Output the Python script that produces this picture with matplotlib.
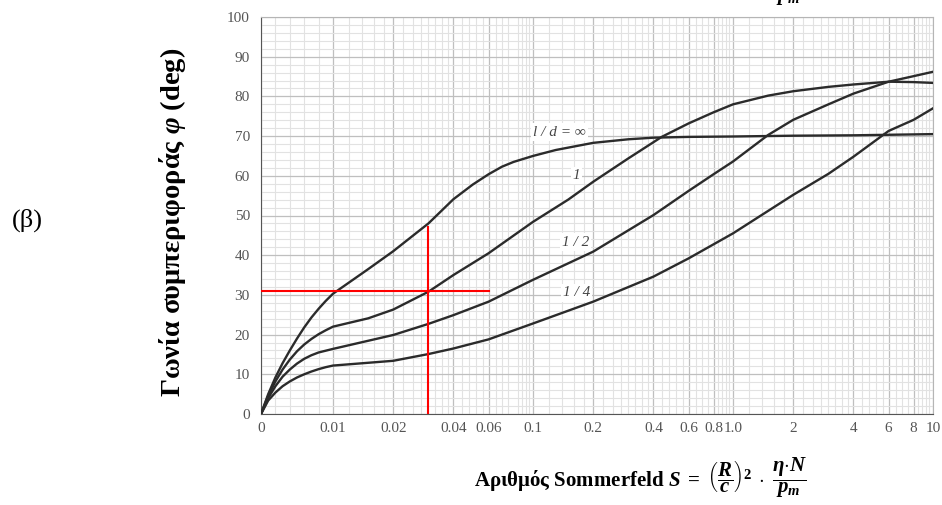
import numpy as np
import matplotlib.pyplot as plt
from matplotlib.ticker import FixedLocator, FixedFormatter, MultipleLocator

plt.rcParams['font.family'] = ['Liberation Serif', 'DejaVu Serif']
plt.rcParams['mathtext.fontset'] = 'custom'
plt.rcParams['mathtext.rm'] = 'Liberation Serif:bold'
plt.rcParams['mathtext.it'] = 'Liberation Serif:italic:bold'
plt.rcParams['mathtext.bf'] = 'Liberation Serif:bold'

S_inf = [0, 0.001, 0.002, 0.003, 0.004, 0.005, 0.006, 0.007, 0.008, 0.009, 0.01,
         0.015, 0.02, 0.03, 0.04, 0.05, 0.06, 0.07, 0.08, 0.1, 0.13, 0.2, 0.3,
         0.4, 0.6, 1, 2, 4, 10]
phi_inf = [0, 5.0, 9.2, 12.8, 16.0, 19.0, 21.8, 24.3, 26.5, 28.5, 30.3,
           36.5, 41.0, 48.0, 54.1, 57.8, 60.4, 62.3, 63.5, 65.0, 66.5, 68.3, 69.2,
           69.6, 69.8, 69.9, 70.1, 70.2, 70.5]

S_1 = [0, 0.001, 0.002, 0.003, 0.004, 0.005, 0.006, 0.007, 0.008, 0.009, 0.01,
       0.015, 0.02, 0.03, 0.04, 0.06, 0.1, 0.15, 0.2, 0.3, 0.44, 0.6, 0.8, 1.0,
       1.5, 2, 3, 4, 6, 8, 10]
phi_1 = [0, 4.6, 8.2, 11.2, 13.7, 15.8, 17.5, 18.9, 20.1, 21.1, 22.0,
         24.1, 26.3, 30.8, 35.0, 40.5, 48.4, 54.0, 58.5, 64.4, 69.8, 73.2, 76.0, 78.0,
         80.2, 81.3, 82.4, 83.0, 83.7, 83.6, 83.4]

S_12 = [0, 0.001, 0.002, 0.003, 0.004, 0.005, 0.006, 0.007, 0.008, 0.009, 0.01,
        0.02, 0.03, 0.04, 0.06, 0.1, 0.2, 0.4, 0.6, 0.8, 1.0, 1.5, 2, 3, 4, 6, 8, 10]
phi_12 = [0, 4.0, 7.0, 9.4, 11.2, 12.7, 13.9, 14.8, 15.5, 15.95, 16.4,
          19.9, 22.7, 24.9, 28.3, 33.8, 40.9, 50.1, 56.2, 60.4, 63.6, 70.3, 74.1,
          78.0, 80.7, 83.7, 85.1, 86.2]

S_14 = [0, 0.001, 0.002, 0.003, 0.004, 0.005, 0.006, 0.007, 0.008, 0.009, 0.01,
        0.02, 0.03, 0.04, 0.06, 0.1, 0.2, 0.4, 0.6, 1.0, 2, 3, 4, 6, 8, 10]
phi_14 = [0, 3.4, 5.4, 7.0, 8.2, 9.2, 10.0, 10.7, 11.3, 11.8, 12.2,
          13.4, 15.1, 16.5, 18.8, 22.8, 28.3, 34.6, 39.2, 45.5, 55.2, 60.5, 64.8,
          71.3, 74.1, 77.0]

# lecture de l'exemple (lignes rouges)
S_lu = 0.03
phi_lu = 31
S_fin_horiz = 0.06
phi_fin_vert = 47.2

x_ticks = [0, 0.01, 0.02, 0.04, 0.06, 0.1, 0.2, 0.4, 0.6, 0.8, 1.0, 2, 4, 6, 8, 10]
x_tick_labels = ['0', '0.01', '0.02', '0.04', '0.06', '0.1', '0.2', '0.4', '0.6',
                 '0.8', '1.0', '2', '4', '6', '8', '10']

# grille secondaire type papier semi-log
mantisses = [1.2, 1.4, 1.6, 1.8, 2.25, 2.5, 2.75, 3, 3.25, 3.5, 3.75,
             4.4, 4.8, 5.2, 5.6, 6.5, 7, 7.5, 8.4, 8.8, 9.2, 9.6]
x_minor = [0.002, 0.004, 0.006, 0.008]
for b in [0.01, 0.1, 1]:
    x_minor += [b * m for m in mantisses]

fig = plt.figure(figsize=(9.42, 5.05), dpi=100)
ax = fig.add_axes([261/942, 1 - 414/505, 672/942, 397/505])

ax.set_xscale('symlog', linthresh=0.01, linscale=0.324)
ax.set_xlim(0, 10)
ax.set_ylim(0, 100)

ax.xaxis.set_major_locator(FixedLocator(x_ticks))
ax.xaxis.set_major_formatter(FixedFormatter(x_tick_labels))
ax.xaxis.set_minor_locator(FixedLocator(x_minor))
ax.yaxis.set_major_locator(MultipleLocator(10))
ax.yaxis.set_minor_locator(MultipleLocator(2))

ax.grid(which='major', color='#bfbfbf', lw=0.9, zorder=0)
ax.grid(which='minor', color='#e2e2e2', lw=0.8, zorder=0)
ax.set_axisbelow(True)
ax.tick_params(which='both', length=0, labelsize=11, labelcolor='#555555')
ax.tick_params(axis='x', pad=6)
ax.tick_params(axis='y', pad=8)
for cote in ['left', 'bottom']:
    ax.spines[cote].set_color('#555555')
for cote in ['top', 'right']:
    ax.spines[cote].set_color('#b5b5b5')

courbe = dict(color='#2b2b2b', lw=1.7, zorder=3, solid_joinstyle='round')
ax.plot(S_inf, phi_inf, **courbe)
ax.plot(S_1, phi_1, **courbe)
ax.plot(S_12, phi_12, **courbe)
ax.plot(S_14, phi_14, **courbe)

ax.plot([0, S_fin_horiz], [phi_lu, phi_lu], color='#ff0000', lw=1.5, zorder=4)
ax.plot([S_lu, S_lu], [0, phi_fin_vert], color='#ff0000', lw=1.5, zorder=4)

boite = dict(facecolor='white', edgecolor='none', pad=1.5)
for txt, sx, py in [('l / d = ∞', 0.135, 71.0), ('1', 0.165, 60.0),
                    ('1 / 2', 0.163, 43.3), ('1 / 4', 0.165, 30.5)]:
    ax.text(sx, py, txt, style='italic', fontsize=11, color='#444444',
            ha='center', va='center', bbox=boite, zorder=2)

fig.text(173/942, 1 - 222/505, 'Γωνία συμπεριφοράς $\\varphi$ (deg)', rotation=90,
         fontsize=20.5, fontweight='bold', ha='center', va='center')
fig.text(27/942, 1 - 220/505, '(β)', fontsize=19, ha='center', va='center')

xlabel = ('Αριθμός Sommerfeld $S\\;=\\;\\left(\\dfrac{R}{c}\\right)^{2}\\;\\cdot\\;'
          '\\dfrac{\\eta{\\cdot}N}{p_m}$')
fig.text(474/942, 1 - 478/505, xlabel, fontsize=15, fontweight='bold',
         ha='left', va='center')
# bas du titre de la figure precedente, coupe en haut
fig.text(474/942, 1 + 14/505, xlabel, fontsize=15, fontweight='bold',
         ha='left', va='center')

fig.savefig('out.png', dpi=100)
